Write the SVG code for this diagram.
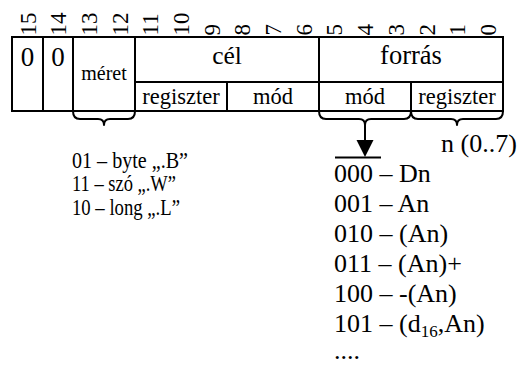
<svg xmlns="http://www.w3.org/2000/svg" width="521" height="366" viewBox="0 0 521 366">
<style>
text{font-family:"Liberation Serif","Times New Roman",serif;fill:#000}
.bit{font-size:23px}
.c{text-anchor:middle}
.ln{stroke:#000;stroke-width:2;fill:none}
.br{stroke:#000;stroke-width:2;fill:none;stroke-linejoin:round}
.l1{font-size:24px}
.l2{font-size:26px}
</style>
<rect width="521" height="366" fill="#fff"/>
<g id="bits" class="bit">
<text transform="translate(35.5,35.5) rotate(-90)">15</text>
<text transform="translate(66.2,35.5) rotate(-90)">14</text>
<text transform="translate(96.9,35.5) rotate(-90)">13</text>
<text transform="translate(127.6,35.5) rotate(-90)">12</text>
<text transform="translate(158.3,35.5) rotate(-90)">11</text>
<text transform="translate(189,35.5) rotate(-90)">10</text>
<text transform="translate(219.7,35.5) rotate(-90)">9</text>
<text transform="translate(250.3,35.5) rotate(-90)">8</text>
<text transform="translate(281,35.5) rotate(-90)">7</text>
<text transform="translate(311.7,35.5) rotate(-90)">6</text>
<text transform="translate(342.4,35.5) rotate(-90)">5</text>
<text transform="translate(373.1,35.5) rotate(-90)">4</text>
<text transform="translate(403.8,35.5) rotate(-90)">3</text>
<text transform="translate(434.5,35.5) rotate(-90)">2</text>
<text transform="translate(465.2,35.5) rotate(-90)">1</text>
<text transform="translate(495.9,35.5) rotate(-90)">0</text>
</g>
<g id="table">
<rect class="ln" x="12" y="37" width="491" height="74"/>
<line class="ln" x1="43" y1="37" x2="43" y2="111"/>
<line class="ln" x1="73" y1="37" x2="73" y2="111"/>
<line class="ln" x1="135" y1="37" x2="135" y2="111"/>
<line class="ln" x1="319" y1="37" x2="319" y2="111"/>
<line class="ln" x1="135" y1="82" x2="503" y2="82"/>
<line class="ln" x1="227" y1="82" x2="227" y2="111"/>
<line class="ln" x1="411" y1="82" x2="411" y2="111"/>
</g>
<g id="bit15"><text class="c" x="27.5" y="66" font-size="27">0</text></g>
<g id="bit14"><text class="c" x="58" y="66" font-size="27">0</text></g>
<g id="meret"><text class="c" x="104" y="80" font-size="20">méret</text></g>
<g id="cel"><text class="c" x="227" y="63.5" font-size="25.5">cél</text></g>
<g id="forras"><text class="c" x="411" y="64" font-size="26.5">forrás</text></g>
<g id="cel-regiszter"><text class="c" x="181" y="103.5" font-size="22.5">regiszter</text></g>
<g id="cel-mod"><text class="c" x="273" y="103.5" font-size="22.5">mód</text></g>
<g id="forras-mod"><text class="c" x="365" y="103.5" font-size="22.5">mód</text></g>
<g id="forras-regiszter"><text class="c" x="457" y="103.5" font-size="22.5">regiszter</text></g>
<g id="connectors">
<path class="br" d="M73,111 Q73,119 80,119 L98,119 Q104,119 104,125 Q104,119 110,119 L128,119 Q135,119 135,111"/>
<path class="br" d="M319,111 Q319,119 326,119 L359,119 Q365,119 365,125 Q365,119 371,119 L404,119 Q411,119 411,111"/>
<path class="br" d="M411,111 Q411,119 418,119 L451,119 Q457,119 457,125 Q457,119 463,119 L496,119 Q503,119 503,111"/>
<line class="ln" x1="365" y1="125" x2="365" y2="141"/>
<polygon points="356.5,140 373.5,140 365,157" fill="#000"/>
<line class="ln" x1="335" y1="157.5" x2="381" y2="157.5"/>
</g>
<g id="size-list" class="l1">
<text x="72" y="167.5" textLength="116" lengthAdjust="spacingAndGlyphs">01 – byte „.B”</text>
<text x="72" y="191" textLength="104" lengthAdjust="spacingAndGlyphs">11 – szó „.W”</text>
<text x="72" y="214.5" textLength="108" lengthAdjust="spacingAndGlyphs">10 – long „.L”</text>
</g>
<g id="n-label"><text class="l2" x="441" y="151.5">n (0..7)</text></g>
<g id="mode-list" class="l2">
<text x="334" y="182">000 – Dn</text>
<text x="334" y="212">001 – An</text>
<text x="334" y="242">010 – (An)</text>
<text x="334" y="272">011 – (An)+</text>
<text x="334" y="302">100 – -(An)</text>
<text x="334" y="332">101 – (d<tspan font-size="17" dy="5">16</tspan><tspan dy="-5">,An)</tspan></text>
<text x="334" y="359">....</text>
</g>
</svg>
